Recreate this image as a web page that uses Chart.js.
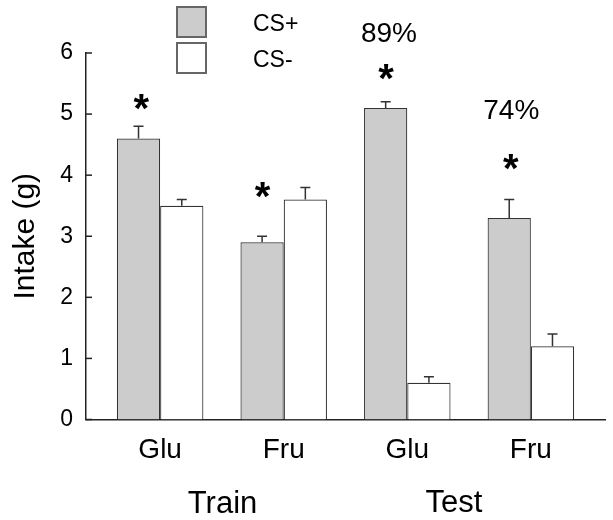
<!DOCTYPE html>
<html>
<head>
<meta charset="utf-8">
<script src="https://cdn.jsdelivr.net/npm/chart.js@4"></script>
<style>
  html, body { margin: 0; padding: 0; background: #fff; }
  #wrap { width: 613px; height: 520px; }
</style>
</head>
<body>
<div id="wrap"><canvas id="graph"></canvas></div>
<script>
const categories = ["Glu", "Fru", "Glu", "Fru"];
const groups = ["Train", "Test"];
const groupAt = [0.5, 2.38];
const csPlus = [4.6, 2.9, 5.1, 3.3];
const csPlusErr = [0.2, 0.1, 0.1, 0.3];
const csMinus = [3.5, 3.6, 0.6, 1.2];
const csMinusErr = [0.1, 0.2, 0.1, 0.2];
const yTicks = [0, 1, 2, 3, 4, 5, 6];

// asterisks and percentages (centre in data units)
const starX = [-0.15, 0.83, 1.83, 2.84];
const starY = [5.2, 3.76, 5.69, 4.21];
const pctText = ["89%", "74%"];
const pctX = [1.86, 2.85];
const pctY = [6.33, 5.08];

const FONT = "'Liberation Sans', Arial, sans-serif";

function drawCentered(ctx, text, cx, cy) {
    const m = ctx.measureText(text);
    const x = cx - (m.actualBoundingBoxRight - m.actualBoundingBoxLeft) / 2;
    const y = cy + (m.actualBoundingBoxAscent - m.actualBoundingBoxDescent) / 2;
    ctx.textAlign = "left";
    ctx.textBaseline = "alphabetic";
    ctx.fillText(text, x + m.actualBoundingBoxLeft, y);
}

const extras = {
    id: "extras",
    afterDatasetsDraw(chart) {
        const ctx = chart.ctx;
        const y = chart.scales.y;
        const errs = [csPlusErr, csMinusErr];
        const vals = [csPlus, csMinus];
        ctx.save();
        ctx.strokeStyle = "#333";
        ctx.lineWidth = 1.5;
        chart.data.datasets.forEach((ds, d) => {
            chart.getDatasetMeta(d).data.forEach((bar, i) => {
                const top = y.getPixelForValue(vals[d][i]);
                const tip = y.getPixelForValue(vals[d][i] + errs[d][i]);
                ctx.beginPath();
                ctx.moveTo(bar.x, top);
                ctx.lineTo(bar.x, tip);
                ctx.moveTo(bar.x - 5, tip);
                ctx.lineTo(bar.x + 5, tip);
                ctx.stroke();
            });
        });
        ctx.restore();
    },
    afterDraw(chart) {
        const ctx = chart.ctx;
        const x = chart.scales.x;
        const y = chart.scales.y;
        ctx.save();
        // inward y ticks
        ctx.strokeStyle = "#222";
        ctx.lineWidth = 1.5;
        yTicks.forEach(t => {
            const py = y.getPixelForValue(t);
            ctx.beginPath();
            ctx.moveTo(x.left, py);
            ctx.lineTo(x.left + 6, py);
            ctx.stroke();
        });
        ctx.fillStyle = "#000";
        ctx.font = "bold 40px " + FONT;
        starX.forEach((sx, i) => {
            drawCentered(ctx, "*", x.getPixelForValue(sx), y.getPixelForValue(starY[i]));
        });
        ctx.font = "28px " + FONT;
        pctText.forEach((t, i) => {
            drawCentered(ctx, t, x.getPixelForValue(pctX[i]), y.getPixelForValue(pctY[i]));
        });
        ctx.font = "31px " + FONT;
        groups.forEach((g, i) => {
            drawCentered(ctx, g, x.getPixelForValue(groupAt[i]), 501);
        });
        // legend
        const items = [["CS+", "#cccccc"], ["CS-", "#ffffff"]];
        ctx.font = "23px " + FONT;
        items.forEach((it, i) => {
            const by = 7 + i * 36;
            ctx.fillStyle = it[1];
            ctx.fillRect(177, by, 29, 30);
            ctx.strokeStyle = "#666";
            ctx.lineWidth = 2;
            ctx.strokeRect(177, by, 29, 30);
            ctx.fillStyle = "#000";
            const m = ctx.measureText(it[0]);
            ctx.textAlign = "left";
            ctx.textBaseline = "alphabetic";
            ctx.fillText(it[0], 253, by + 15 + (m.actualBoundingBoxAscent - m.actualBoundingBoxDescent) / 2);
        });
        ctx.restore();
    }
};

const graph = document.getElementById("graph").getContext("2d");

let myChart = new Chart(graph, {
    type: "bar",
    data: {
        datasets: [
            {
                label: "CS+",
                data: csPlus.map((v, i) => ({ x: i, y: v })),
                backgroundColor: "#cccccc",
                borderColor: "#333",
                borderWidth: 1.2,
            },
            {
                label: "CS-",
                data: csMinus.map((v, i) => ({ x: i, y: v })),
                backgroundColor: "#ffffff",
                borderColor: "#333",
                borderWidth: 1.2,
            },
        ],
    },
    options: {
        responsive: true,
        maintainAspectRatio: false,
        animation: false,
        categoryPercentage: 0.7,
        barPercentage: 1.0,
        layout: {
            padding: { top: 53, right: 8, left: 0, bottom: 0 },
        },
        plugins: {
            legend: { display: false },
            tooltip: { enabled: false },
        },
        scales: {
            x: {
                type: "linear",
                min: -0.6,
                max: 3.6,
                offset: false,
                grid: { display: false, drawTicks: false, offset: false },
                border: { color: "#222", width: 1.5 },
                afterBuildTicks: (scale) => {
                    scale.ticks = categories.map((c, i) => ({ value: i }));
                },
                afterFit: (scale) => { scale.height = 100.5; },
                ticks: {
                    callback: (v) => categories[v],
                    font: { family: FONT, size: 28 },
                    color: "#000",
                    padding: 14,
                    maxRotation: 0,
                    autoSkip: false,
                },
            },
            y: {
                min: 0,
                max: 6,
                grid: { display: false, drawTicks: false },
                border: { color: "#222", width: 1.5 },
                afterBuildTicks: (scale) => {
                    scale.ticks = yTicks.map(v => ({ value: v }));
                },
                afterFit: (scale) => { scale.width = 86; },
                ticks: {
                    font: { family: FONT, size: 23 },
                    color: "#000",
                    padding: 13,
                },
                title: {
                    display: true,
                    text: "Intake (g)",
                    font: { family: FONT, size: 30 },
                    color: "#000",
                    padding: { top: 8, bottom: 0 },
                },
            },
        },
    },
    plugins: [extras],
});
</script>
</body>
</html>
